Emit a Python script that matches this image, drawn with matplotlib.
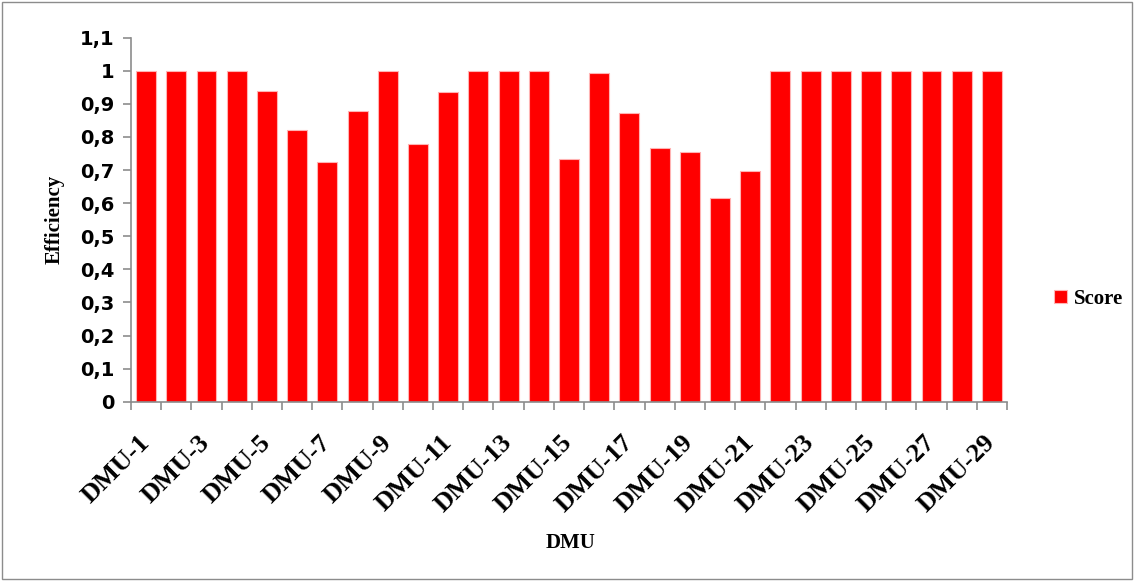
import numpy as np
import matplotlib.pyplot as plt
from matplotlib.patches import Rectangle

# efficiency scores
dmus = ["DMU-%d" % i for i in range(1, 30)]
scores = [1, 1, 1, 1, 0.94, 0.821, 0.724, 0.879, 1, 0.779, 0.935, 1, 1, 1,
          0.734, 0.993, 0.872, 0.766, 0.755, 0.616, 0.698,
          1, 1, 1, 1, 1, 1, 1, 1]
yticks = [round(0.1 * i, 1) for i in range(12)]

fig = plt.figure(figsize=(11.34, 5.81), dpi=100)
ax = fig.add_axes([0.1155, 0.3086, 0.7725, 0.6265])

x = np.arange(len(dmus))
bars = ax.bar(x, scores, width=0.66, color="#ff0000", edgecolor="#ffb3b3",
              linewidth=0.8, label="Score")

ax.set_xlim(-0.5, len(dmus) - 0.5)
ax.set_ylim(0, 1.1)

# y axis
ax.set_yticks(yticks)
ax.set_yticklabels([("%g" % v).replace(".", ",") for v in yticks],
                   fontfamily="DejaVu Sans", fontweight="bold", fontsize=14)

# x axis: ticks at category borders, labels on every other bar
ax.set_xticks(np.arange(-0.5, len(dmus), 1.0))
ax.set_xticklabels([])
ax.set_xticks(x[::2], minor=True)
ax.set_xticklabels(dmus[::2], minor=True, rotation=45, ha="right", va="center",
                   rotation_mode="anchor", fontfamily="Liberation Serif",
                   fontweight="bold", fontsize=19)
ax.tick_params(axis="x", which="minor", length=0, pad=27)
ax.tick_params(axis="both", which="major", direction="out", length=6,
               color="#8c8c8c", width=1.2)
ax.tick_params(axis="y", pad=6)

for side in ["top", "right"]:
    ax.spines[side].set_visible(False)
for side in ["left", "bottom"]:
    ax.spines[side].set_color("#8c8c8c")
    ax.spines[side].set_linewidth(1.2)

ax.set_ylabel("Efficiency", fontfamily="Liberation Serif", fontweight="bold",
              fontsize=15, va="center")
ax.set_xlabel("DMU", fontfamily="Liberation Serif", fontweight="bold",
              fontsize=15, va="center")
ax.yaxis.set_label_coords(-0.0875, 0.5)
ax.xaxis.set_label_coords(0.502, -0.387)

fig.legend(handles=[bars], labels=["Score"], loc="center left",
           bbox_to_anchor=(0.913, 0.485), frameon=False, handlelength=0.6,
           handleheight=0.6, handletextpad=0.35,
           prop={"family": "Liberation Serif", "weight": "bold", "size": 15})

# thin frame round the whole chart
fig.patches.append(Rectangle((0.002, 0.003), 0.996, 0.994, transform=fig.transFigure,
                             fill=False, edgecolor="#8c8c8c", linewidth=1))

fig.savefig("out.png", dpi=100)
